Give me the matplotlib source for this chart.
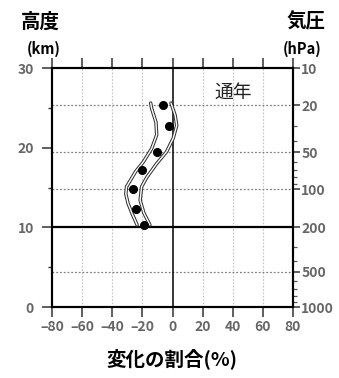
import numpy as np
import matplotlib
matplotlib.use("Agg")
import matplotlib.pyplot as plt

plt.rcParams['font.family'] = ['Noto Sans CJK JP', 'DejaVu Sans']

# observed points (height km, change %)
dot_km = [25.3, 22.7, 19.4, 17.2, 14.8, 12.3, 10.3]
dot_pct = [-6.5, -2.5, -10.5, -20.0, -26.4, -24.4, -18.9]

# band edges
left_km = [25.6, 24.9, 23.2, 21.6, 19.9, 18.2, 17.0, 15.1, 14.2, 13.0, 11.8, 10.3]
left_pct = [-14.5, -13.8, -11.0, -10.5, -13.8, -19.4, -24.5, -30.5, -31.0, -29.5, -27.0, -23.5]
right_km = [25.6, 24.1, 22.8, 21.2, 19.5, 18.0, 16.3, 15.1, 13.4, 11.8, 10.3]
right_pct = [-1.0, 1.7, 2.8, 0.5, -3.9, -10.5, -17.0, -20.5, -21.5, -19.0, -15.0]

# pressure axis: levels and the height they sit at
p_levels = [1000, 500, 200, 100, 50, 20, 10]
p_km = [0, 4.4, 10.0, 14.8, 19.4, 25.3, 30.0]
p_minor = [900, 800, 700, 600, 400, 300, 90, 80, 70, 60, 40, 30]
p_grid = [500, 100, 50, 20]

x_ticks = [-80, -60, -40, -20, 0, 20, 40, 60, 80]


def hpa_to_km(p):
    return np.interp(-np.log10(p), -np.log10(p_levels), p_km)


fig = plt.figure(figsize=(3.39, 3.78), dpi=100)
ax = fig.add_axes([0.1534, 0.1878, 0.7109, 0.6323])
ax.set_xlim(-80, 80)
ax.set_ylim(0, 30)

tick_col = '#666666'

# grid
for x in [-60, -40, -20, 20, 40, 60]:
    ax.axvline(x, color='#c4c4c4', lw=0.8, ls=(0, (1.5, 1.5)), zorder=1)
for p in p_grid:
    ax.axhline(hpa_to_km(p), color='#808080', lw=0.9, ls=(0, (1.5, 1.5)), zorder=1)
ax.axhline(10, color='black', lw=1.6, zorder=2)
ax.axvline(0, color='black', lw=1.1, zorder=2)

# band edges (double line look)
for xs, ys in [(left_pct, left_km), (right_pct, right_km)]:
    ax.plot(xs, ys, color='#333333', lw=2.5, solid_capstyle='round', zorder=3)
    ax.plot(xs, ys, color='white', lw=1.0, solid_capstyle='round', zorder=4)

ax.plot(dot_pct, dot_km, 'o', color='black', ms=5.5, zorder=5)

for s in ax.spines.values():
    s.set_linewidth(1.5)

ax.set_xticks(x_ticks)
ax.set_xticklabels([str(v).replace('-', '\u2013') for v in x_ticks])
ax.set_yticks([0, 10, 20, 30])
ax.set_yticks([5, 15, 25], minor=True)
ax.tick_params(axis='both', which='major', length=7, width=1.1, color='#333333',
               labelsize=10, labelcolor=tick_col, pad=3)
ax.tick_params(axis='x', top=True, pad=2)
ax.tick_params(axis='y', which='minor', length=3, width=1.0, color='#333333')
ax.tick_params(axis='y', labelleft=True, pad=6)
for lab in ax.get_xticklabels() + ax.get_yticklabels():
    lab.set_fontweight('bold')

ax2 = ax.twinx()
ax2.set_ylim(0, 30)
ax2.set_yticks([hpa_to_km(p) for p in p_levels])
ax2.set_yticklabels([str(p) for p in p_levels], fontweight='bold')
ax2.set_yticks([hpa_to_km(p) for p in p_minor], minor=True)
ax2.tick_params(axis='y', which='major', length=5, width=1.1, color='#333333',
                labelsize=10, labelcolor=tick_col, pad=1)
ax2.tick_params(axis='y', which='minor', length=3, width=0.9, color='#555555')
for s in ax2.spines.values():
    s.set_linewidth(1.5)

# labels
fig.text(40 / 339, 1 - 22 / 378, '高度', ha='center', va='center', fontsize=14, fontweight='bold')
fig.text(44 / 339, 1 - 49 / 378, '(km)', ha='center', va='center', fontsize=10.5, fontweight='bold')
fig.text(306 / 339, 1 - 22 / 378, '気圧', ha='center', va='center', fontsize=14, fontweight='bold')
fig.text(302 / 339, 1 - 49 / 378, '(hPa)', ha='center', va='center', fontsize=10.5, fontweight='bold')
ax.text(40, 27, '通年', ha='center', va='center', fontsize=13.5, color='#222222')
fig.text(172 / 339, 1 - 359 / 378, '変化の割合(%)', ha='center', va='center',
         fontsize=14, fontweight='bold')

fig.savefig('out.png', dpi=100)
